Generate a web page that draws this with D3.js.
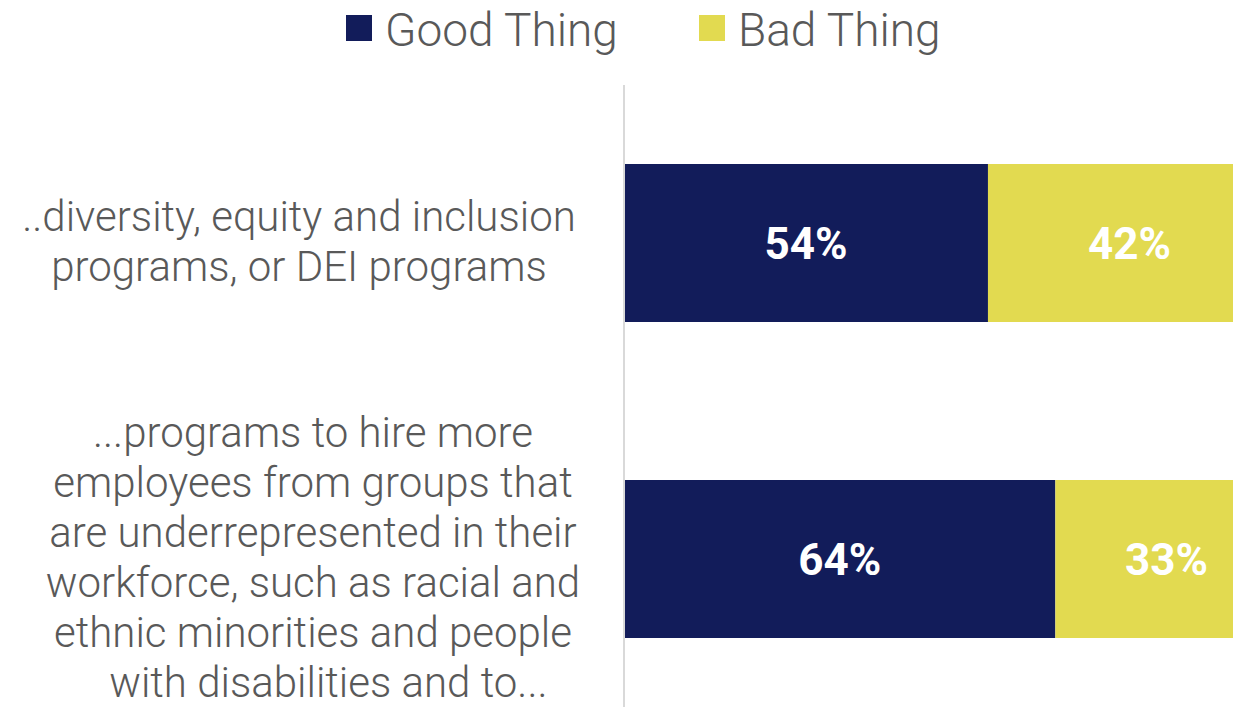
<!DOCTYPE html>
<html>
<head>
<meta charset="utf-8">
<script src="https://cdn.jsdelivr.net/npm/d3@7"></script>
<style>
  html, body { margin: 0; padding: 0; background: #fff; }
  svg { display: block; }
  text { font-family: Roboto, "Noto Sans", sans-serif; }
</style>
</head>
<body>
<svg id="chart" width="1233" height="707"></svg>
<script>
// ---- data ----
const categories = [
  ["..diversity, equity and inclusion", "programs, or DEI programs"],
  ["...programs to hire more", "employees from groups that", "are underrepresented in their",
   "workforce, such as racial and", "ethnic minorities and people", "   with disabilities and to..."]
];
const seriesNames = ["Good Thing", "Bad Thing"];
const goodValues = [54, 64];
const badValues = [42, 33];
const colors = ["#121C5A", "#E2DA50"];

// ---- layout ----
const W = 1233, H = 707;
const svg = d3.select("#chart");
const x0 = 624;
const x = d3.scaleLinear().domain([0, 100]).range([x0, x0 + 674]);
const y = d3.scaleBand().domain(d3.range(categories.length)).range([85, 717])
  .paddingInner(0.5).paddingOuter(0.25);

const rows = categories.map((c, i) => ({ i, good: goodValues[i], bad: badValues[i] }));
const stack = d3.stack().keys(["good", "bad"])(rows);

// bars
stack.forEach((layer, k) => {
  svg.append("g").selectAll("rect").data(layer).join("rect")
    .attr("x", d => x(d[0]))
    .attr("y", d => y(d.data.i))
    .attr("width", d => x(d[1]) - x(d[0]))
    .attr("height", y.bandwidth())
    .attr("fill", colors[k]);
  svg.append("g").selectAll("text").data(layer).join("text")
    .attr("x", d => x((d[0] + d[1]) / 2))
    .attr("y", d => y(d.data.i) + y.bandwidth() / 2)
    .attr("dy", "0.36em")
    .attr("text-anchor", "middle")
    .attr("fill", "#fff")
    .attr("font-weight", 700)
    .attr("font-size", 44)
    .text(d => (d[1] - d[0]) + "%");
});

// vertical axis line
svg.append("line")
  .attr("x1", x0).attr("x2", x0)
  .attr("y1", 85).attr("y2", H)
  .attr("stroke", "#d9d9d9").attr("stroke-width", 2);

// category labels
const labelCenters = [299, 313];
const lineH = 50;
categories.forEach((lines, i) => {
  const cy = y(i) + y.bandwidth() / 2;
  const n = lines.length;
  const firstBase = cy - (n - 1) * lineH / 2 + 13;
  const t = svg.append("text")
    .attr("text-anchor", "middle")
    .attr("fill", "#595959")
    .attr("font-size", 42)
    .attr("font-weight", 300)
    .style("white-space", "pre");
  lines.forEach((ln, j) => {
    t.append("tspan")
      .attr("x", labelCenters[i])
      .attr("y", firstBase + j * lineH)
      .text(ln);
  });
});

// legend
const legendX = [346, 699];
seriesNames.forEach((name, k) => {
  svg.append("rect")
    .attr("x", legendX[k]).attr("y", 15)
    .attr("width", 26).attr("height", 26)
    .attr("fill", colors[k]);
  svg.append("text")
    .attr("x", legendX[k] + 39).attr("y", 46)
    .attr("fill", "#595959")
    .attr("font-size", 46)
    .attr("font-weight", 300)
    .text(name);
});
</script>
</body>
</html>
